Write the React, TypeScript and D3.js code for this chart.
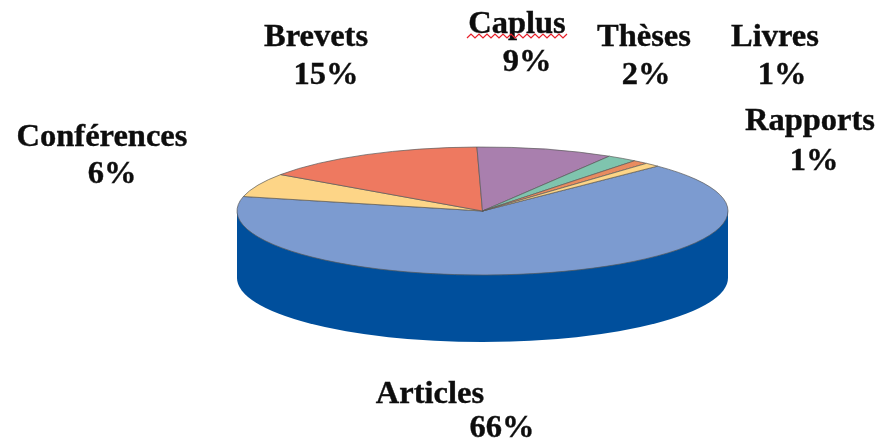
import React from "react";
import * as d3 from "d3";

const categories = ["Articles", "Conférences", "Brevets", "Caplus", "Thèses", "Livres", "Rapports"];
const shares = [66, 6, 15, 9, 2, 1, 1];
const colors = ["#7b9bd0", "#fdd587", "#ee7960", "#a97fae", "#7fc4ae", "#e98b5e", "#fdd587"];

// label anchors: [name x, name baseline, value x, value baseline]
const labelSpots = [
  [430, 403, 502, 437],
  [102, 146, 112, 183],
  [316, 46, 326, 84],
  [517, 33, 527, 71],
  [644, 46, 646, 84],
  [775, 46, 782, 84],
  [810, 130, 814, 170],
];

const width = 878;
const height = 444;
const cx = 482.5;
const cy = 211;
const rx = 245.5;
const ry = 64;
const depth = 67;
const startDeg = 45.5;

export default function App() {
  const squash = ry / rx;
  const pie = d3
    .pie<number>()
    .sort(null)
    .startAngle((startDeg * Math.PI) / 180)
    .endAngle(((startDeg + 360) * Math.PI) / 180);
  const arc = d3.arc<d3.PieArcDatum<number>>().innerRadius(0).outerRadius(rx);
  const arcs = pie(shares);

  // front wall of the disc, in unsquashed coordinates
  const D = depth / squash;
  const wall = d3.path();
  wall.moveTo(-rx, 0);
  wall.lineTo(-rx, D);
  wall.arc(0, D, rx, Math.PI, 0, true);
  wall.lineTo(rx, 0);
  wall.closePath();

  // spell-check squiggle under Caplus
  const squiggle = d3.line()(d3.range(467, 569, 4).map((x, i) => [x, i % 2 ? 34 : 38] as [number, number]));

  return (
    <svg
      width={width}
      height={height}
      viewBox={`0 0 ${width} ${height}`}
      style={{ position: "absolute", left: 0, top: 0, display: "block", background: "#fff" }}
    >
      <defs>
        <filter id="soft" x="-5%" y="-5%" width="110%" height="110%">
          <feGaussianBlur stdDeviation="0.7" />
        </filter>
      </defs>
      <g filter="url(#soft)">
        <g transform={`translate(${cx},${cy}) scale(1,${squash})`}>
          <path d={wall.toString()} fill="#00509c" />
          {arcs.map((d, i) => (
            <path
              key={categories[i]}
              d={arc(d) ?? ""}
              fill={colors[i]}
              stroke="#5a5a5a"
              strokeWidth={0.7}
              vectorEffect="non-scaling-stroke"
            />
          ))}
        </g>
        <g
          fontFamily="'Liberation Serif', serif"
          fontWeight="bold"
          fontSize={32.5}
          fill="#111"
          stroke="#111"
          strokeWidth={0.4}
          textAnchor="middle"
        >
          {categories.map((name, i) => (
            <g key={name}>
              <text x={labelSpots[i][0]} y={labelSpots[i][1]}>
                {name}
              </text>
              <text x={labelSpots[i][2]} y={labelSpots[i][3]}>
                {shares[i]}%
              </text>
            </g>
          ))}
        </g>
        <path d={squiggle ?? ""} fill="none" stroke="#e8202a" strokeWidth={1.2} />
      </g>
    </svg>
  );
}
